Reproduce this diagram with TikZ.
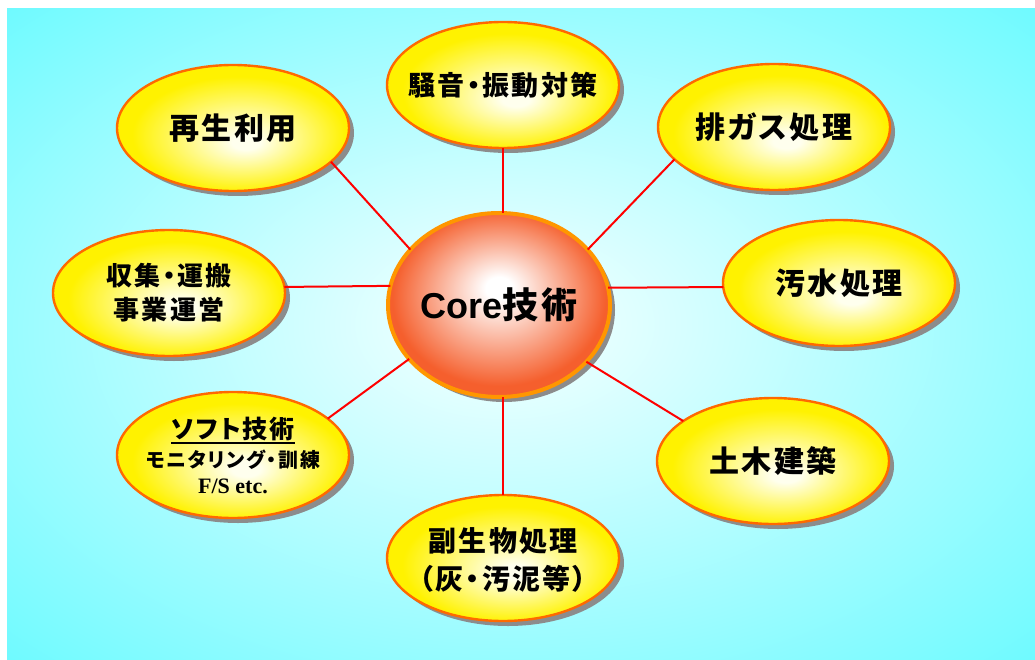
\documentclass[tikz,border=0pt]{standalone}
\usepackage{fontspec}
\newfontfamily\jp{Noto Sans CJK JP}[RawFeature=+palt, LetterSpace=8]
\newfontfamily\lat{Liberation Sans}
\newfontfamily\tms{Liberation Serif}
\usetikzlibrary{shapes.geometric,shadows}
\definecolor{bgout}{RGB}{105,250,255}
\definecolor{bgmid}{RGB}{232,255,255}
\definecolor{yin}{RGB}{255,255,238}
\definecolor{yout}{RGB}{255,242,0}
\definecolor{yborder}{RGB}{255,105,0}
\definecolor{cout}{RGB}{245,95,45}
\definecolor{cborder}{RGB}{255,150,0}
\definecolor{lred}{RGB}{255,0,0}
\pgfdeclareradialshading{bgshade}{\pgfpoint{-1bp}{1bp}}{color(0bp)=(white); color(4bp)=(bgmid); color(37bp)=(bgout)}
\pgfdeclareradialshading{yshade}{\pgfpoint{3bp}{-6bp}}{color(0bp)=(yin); color(3bp)=(yin); color(23bp)=(yout); color(40bp)=(yout)}
\pgfdeclareradialshading{cshade}{\pgfpoint{0bp}{5bp}}{color(0bp)=(white); color(3bp)=(white); color(24bp)=(cout); color(40bp)=(cout)}
\newcommand\thickul[1]{\begingroup\setbox0=\hbox{#1}\dimen0=\wd0\rlap{\box0}\rule[-6pt]{\dimen0}{1.6pt}\endgroup}
\tikzset{
  leaf/.style={ellipse, minimum width=232pt, minimum height=126pt, inner sep=0pt, outer sep=0pt,
    draw=yborder, line width=2.4pt, shading=yshade,
    drop shadow={shadow xshift=5pt, shadow yshift=-5pt, fill=black!45, opacity=1}},
  lbl/.style={align=center, text=black, inner sep=0pt, font=\jp\bfseries\fontsize{30}{36}\selectfont},
  corenode/.style={ellipse, minimum width=222pt, minimum height=184pt, inner sep=0pt, outer sep=0pt,
    draw=cborder, line width=4pt, shading=cshade,
    drop shadow={shadow xshift=5pt, shadow yshift=-5pt, fill=black!45, opacity=1}},
  link/.style={draw=lred, line width=2pt}
}
\begin{document}
\begin{tikzpicture}[x=1pt,y=-1pt]
\useasboundingbox (0,0) rectangle (1035,660);
\shade[shading=bgshade] (7,9) rectangle (1035,660);

\node[corenode] (core) at (499,305) {};
\node[lbl] (coret) at (core) {{\lat\bfseries\fontsize{36}{40}\selectfont Core}{\jp\bfseries\fontsize{36}{40}\selectfont 技術}};

\node[leaf] (A) at (233,128) {};
\node[lbl] (At) at (A) {再生利用};
\node[leaf] (B) at (503,85) {};
\node[lbl, font=\jp\bfseries\fontsize{27}{34}\selectfont] (Bt) at (B) {騒音・振動対策};
\node[leaf] (Cc) at (774,127) {};
\node[lbl] (Cct) at (Cc) {排ガス処理};
\node[leaf] (D) at (169,293) {};
\node[lbl, font=\jp\bfseries\fontsize{26}{34}\selectfont] (Dt) at (D) {収集・運搬\\事業運営};
\node[leaf] (E) at (839,283) {};
\node[lbl] (Et) at (E) {汚水処理};
\node[leaf] (F) at (233,455) {};
\node[lbl, font=\jp\bfseries\fontsize{20}{30}\selectfont] (Ft) at (F)
  {{\fontsize{25}{28}\selectfont\thickul{ソフト技術}}\\[-1pt]
   {\fontsize{20}{24}\selectfont モニタリング・訓練}\\[-4pt]
   {\tms\bfseries\fontsize{22}{26}\selectfont F/S etc.}};
\node[leaf] (G) at (773,461) {};
\node[lbl] (Gt) at (G) {土木建築};
\node[leaf] (H) at (503,558) {};
\node[lbl, font=\jp\bfseries\fontsize{28}{38}\selectfont] (Ht) at ([yshift=-2pt]H.center) {副生物処理\\（灰・汚泥等）};

\draw[link] (core.148.9) -- (A.-19.9);
\draw[link] (B.south) -- (B.south |- core.north);
\draw[link] (core.32.6) -- (Cc.198.6);
\draw[link] (D.3) -- (core.170.8);
\draw[link] (core.9.2) -- (E.182);
\draw[link] (core.211.9) -- (F.21.5);
\draw[link] (core.327.2) -- (G.156.8);
\draw[link] (H.north |- core.south) -- (H.north);
\end{tikzpicture}
\end{document}
